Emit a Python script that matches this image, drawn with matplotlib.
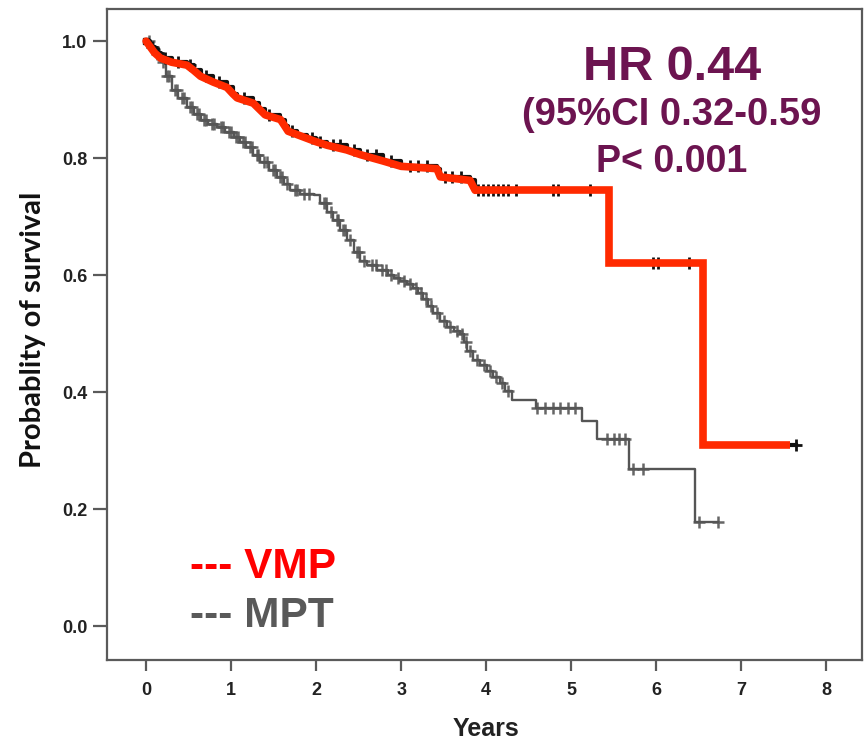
import numpy as np
import matplotlib
matplotlib.use("Agg")
import matplotlib.pyplot as plt
from matplotlib import font_manager

# ---------------- data ----------------
mpt_t = [0.00, 0.05, 0.10, 0.17, 0.23, 0.30, 0.38, 0.48, 0.56, 0.64, 0.73, 0.83,
         0.93, 1.03, 1.10, 1.18, 1.26, 1.34, 1.44, 1.54, 1.62, 1.69, 1.81, 1.97,
         2.05, 2.13, 2.20, 2.28, 2.36, 2.44, 2.52, 2.60, 2.72, 2.84, 2.92, 2.99,
         3.07, 3.14, 3.20, 3.26, 3.32, 3.38, 3.46, 3.54, 3.62, 3.69, 3.74, 3.78,
         3.85, 3.93, 4.01, 4.08, 4.16, 4.22, 4.30, 4.58, 5.13, 5.30, 5.68, 6.45]
mpt_s = [1.000, 0.990, 0.978, 0.964, 0.940, 0.916, 0.902, 0.887, 0.876, 0.865, 0.858, 0.853,
         0.845, 0.836, 0.828, 0.819, 0.806, 0.793, 0.780, 0.768, 0.756, 0.745, 0.738, 0.737,
         0.724, 0.708, 0.694, 0.677, 0.660, 0.640, 0.625, 0.617, 0.608, 0.600, 0.595, 0.590,
         0.585, 0.578, 0.570, 0.560, 0.548, 0.535, 0.522, 0.511, 0.505, 0.500, 0.485, 0.470,
         0.455, 0.446, 0.436, 0.426, 0.415, 0.402, 0.387, 0.373, 0.350, 0.320, 0.268, 0.178]
mpt_end = 6.73
mpt_censor = [0.03, 0.08, 0.13, 0.15, 0.20, 0.25, 0.27, 0.34, 0.36, 0.42, 0.45, 0.52,
              0.54, 0.60, 0.62, 0.68, 0.71, 0.78, 0.80, 0.88, 0.90, 0.98, 1.00, 1.06,
              1.08, 1.14, 1.16, 1.22, 1.24, 1.30, 1.32, 1.39, 1.42, 1.49, 1.52, 1.58,
              1.60, 1.66, 1.75, 1.78, 1.86, 1.92, 2.09, 2.11, 2.17, 2.24, 2.26, 2.32,
              2.34, 2.40, 2.48, 2.50, 2.56, 2.66, 2.70, 2.78, 2.82, 2.88, 2.96, 3.03,
              3.10, 3.17, 3.23, 3.29, 3.35, 3.42, 3.50, 3.58, 3.66, 3.71, 3.76, 3.81,
              3.89, 3.97, 4.05, 4.12, 4.19, 4.26, 4.60, 4.69, 4.79, 4.87, 4.96, 5.05,
              5.42, 5.50, 5.56, 5.63, 5.73, 5.84, 6.50, 6.73]

vmp_t = [0.00, 0.05, 0.10, 0.17, 0.30, 0.48, 0.56, 0.64, 0.79, 0.95, 1.02, 1.07,
         1.26, 1.33, 1.40, 1.58, 1.63, 1.67, 1.78, 1.89, 2.00, 2.13, 2.36, 2.52,
         2.79, 3.00, 3.42, 3.46, 3.81, 3.87, 5.44, 6.55]
vmp_s = [1.000, 0.990, 0.980, 0.971, 0.964, 0.959, 0.950, 0.940, 0.930, 0.921, 0.910, 0.903,
         0.894, 0.884, 0.874, 0.866, 0.855, 0.846, 0.840, 0.834, 0.828, 0.822, 0.814, 0.806,
         0.795, 0.786, 0.782, 0.768, 0.762, 0.745, 0.620, 0.310]
vmp_end = 7.64
vmp_censor = [0.07, 0.14, 0.22, 0.38, 0.52, 0.70, 0.86, 1.15, 1.45, 1.72, 1.95, 2.05,
              2.20, 2.28, 2.44, 2.60, 2.70, 2.88, 3.10, 3.20, 3.30, 3.52, 3.60, 3.70,
              3.90, 3.96, 4.02, 4.08, 4.14, 4.20, 4.26, 4.35, 4.78, 4.84, 5.22,
              5.96, 6.02, 6.38, 7.64]

x_ticks = [0, 1, 2, 3, 4, 5, 6, 7, 8]
y_ticks = [0.0, 0.2, 0.4, 0.6, 0.8, 1.0]

hr_lines = ["HR 0.44", "(95%CI 0.32-0.59", "P< 0.001"]
legend_labels = ["--- VMP", "--- MPT"]

# ---------------- style ----------------
W, H = 866, 744
def font_ok(name):
    try:
        font_manager.findfont(name, fallback_to_default=False)
        return True
    except Exception:
        return False

ARIAL = "Liberation Sans"
LABELF = "Lato" if font_ok("Lato") else "DejaVu Sans"
plt.rcParams["font.family"] = [ARIAL, "DejaVu Sans"]

red_line = "#ff2a00"
gray_line = "#555555"
purple = "#6c1450"
frame = "#5a5a5a"

fig = plt.figure(figsize=(W / 100, H / 100), dpi=100)
ax = fig.add_axes([107 / W, 1 - 660 / H, (862 - 107) / W, (660 - 9) / H])


def step_data(t, s, end):
    return list(t) + [end], list(s) + [s[-1]]


def surv_at(t, s, times):
    t = np.asarray(t)
    s = np.asarray(s)
    idx = np.searchsorted(t, np.asarray(times), side="right") - 1
    return s[idx]


# MPT curve (gray)
mt, ms = step_data(mpt_t, mpt_s, mpt_end)
ax.step(mt, ms, where="post", color=gray_line, lw=1.7, zorder=2)
ax.plot(mpt_censor, surv_at(mpt_t, mpt_s, mpt_censor), ls="none", marker="+",
        ms=8, mew=1.8, color=gray_line, alpha=0.9, zorder=2)

# VMP curve: black KM underneath, thick red on top
vt, vs = step_data(vmp_t, vmp_s, vmp_end)
ax.step(vt, vs, where="post", color="#111111", lw=3.0, zorder=3)
ax.plot(vmp_censor, surv_at(vmp_t, vmp_s, vmp_censor), ls="none", marker="+",
        ms=9, mew=2.0, color="#111111", zorder=3)
ax.plot([0], [1.0], ls="none", marker="s", ms=5, color="#111111", zorder=3)

# red highlight: smooth through the dense early part, steps afterwards
k = vmp_t.index(3.87)
ax.plot(vmp_t[:k + 1], vmp_s[:k + 1], color=red_line, lw=5.5,
        solid_joinstyle="round", solid_capstyle="round", zorder=4)
ax.step(vt[k:-1] + [vmp_end - 0.07], vs[k:], where="post", color=red_line, lw=5.5,
        solid_joinstyle="miter", solid_capstyle="butt", zorder=4)

ax.set_xlim(-0.46, 8.42)
ax.set_ylim(-0.058, 1.055)
ax.set_xticks(x_ticks)
ax.set_yticks(y_ticks)
ax.set_xticklabels([str(v) for v in x_ticks], fontsize=13, fontweight="bold",
                   color="#222222")
ax.set_yticklabels([f"{v:.1f}" for v in y_ticks], fontsize=13, fontweight="bold",
                   color="#222222")
ax.tick_params(axis="x", length=8, width=1.6, color=frame, pad=8, direction="out")
ax.tick_params(axis="y", length=10, width=1.6, color=frame, pad=4, direction="out")
for sp in ax.spines.values():
    sp.set_color(frame)
    sp.set_linewidth(1.6)

fig.text(33 / W, 1 - 330 / H, "Probablity of survival", rotation=90, ha="center",
         va="center", fontsize=21, fontweight="bold", family=[LABELF, "DejaVu Sans"],
         color="#111111")
fig.text(486 / W, 1 - 736 / H, "Years", ha="center", va="baseline", fontsize=18,
         fontweight="bold", color="#222222")

# HR annotation
fig.text(672 / W, 1 - 80 / H, hr_lines[0], ha="center", va="baseline", fontsize=35,
         fontweight="bold", color=purple)
fig.text(672 / W, 1 - 125 / H, hr_lines[1], ha="center", va="baseline", fontsize=27.5,
         fontweight="bold", color=purple)
fig.text(672 / W, 1 - 172 / H, hr_lines[2], ha="center", va="baseline", fontsize=27,
         fontweight="bold", color=purple)

# legend-like text
fig.text(190 / W, 1 - 578 / H, legend_labels[0], ha="left", va="baseline", fontsize=30.5,
         fontweight="bold", color="#ff0000")
fig.text(190 / W, 1 - 627 / H, legend_labels[1], ha="left", va="baseline", fontsize=30.5,
         fontweight="bold", color="#595959")

fig.savefig("out.png", dpi=100)
